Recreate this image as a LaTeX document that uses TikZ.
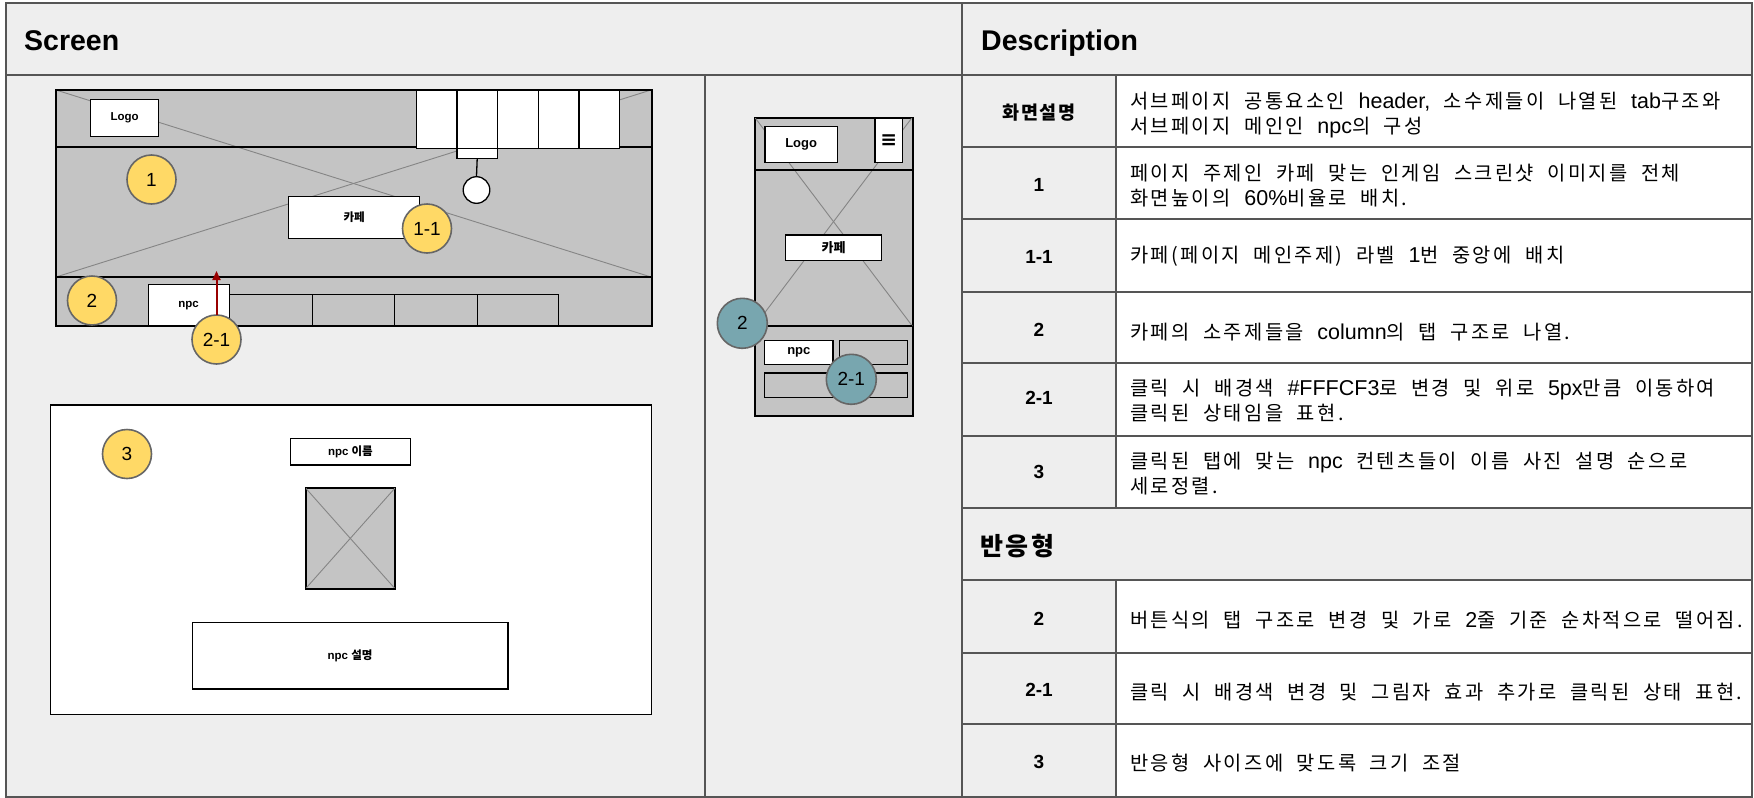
\documentclass[tikz,border=0pt]{standalone}
\usepackage{fontspec}
\setmainfont{Liberation Sans}
\newfontfamily\kr{Noto Sans CJK KR}[LetterSpace=12,WordSpace=2.0]
\newfontfamily\krn{Noto Sans CJK KR}
\newfontfamily\krh{Noto Sans CJK KR}[LetterSpace=10]
\newfontfamily\symf{DejaVu Sans}
\newcommand\en[1]{{\rmfamily\fontsize{21.5}{25}\selectfont #1}}
\usetikzlibrary{arrows.meta}
\definecolor{bg}{HTML}{EEEEEE}
\definecolor{wfg}{HTML}{C4C4C4}
\definecolor{yel}{HTML}{FFD966}
\definecolor{tealc}{HTML}{78A6AF}
\definecolor{cborder}{HTML}{666666}
\definecolor{tline}{HTML}{555555}
\definecolor{xg}{HTML}{858585}
\definecolor{arr}{HTML}{990000}
\tikzset{
 wf/.style={draw=black, line width=1.3pt, fill=wfg, inner sep=0pt, anchor=north west},
 wb/.style={draw=black, line width=1.3pt, fill=white, inner sep=0pt, anchor=north west},
 xl/.style={draw=xg, line width=0.9pt},
 tl/.style={draw=tline, line width=2pt},
 yc/.style={circle, fill=yel, draw=cborder, line width=1.6pt, minimum size=49pt, inner sep=0pt, font=\fontsize{19}{19}\selectfont},
 tc/.style={circle, fill=tealc, draw=cborder, line width=1.6pt, minimum size=50pt, inner sep=0pt, font=\fontsize{19}{19}\selectfont},
 lbl/.style={font=\bfseries\fontsize{11.5}{12}\selectfont},
 mlbl/.style={font=\bfseries\fontsize{13}{14}\selectfont},
 body/.style={anchor=west, align=left, inner sep=0pt, font=\kr\fontsize{19.8}{25}\selectfont},
 lab/.style={anchor=center, inner sep=0pt, font=\bfseries\fontsize{19}{20}\selectfont},
 ttl/.style={anchor=base west, inner sep=0pt, font=\bfseries\fontsize{28.5}{30}\selectfont},
 arrowst/.style={draw=arr, line width=2pt, -{Triangle[length=9pt,width=8pt]}},
}
\begin{document}
\begin{tikzpicture}[x=1pt,y=-1pt]
\useasboundingbox (0,0) rectangle (1754,798);
\fill[white] (0,0) rectangle (1754,798);
% backgrounds
\fill[bg] (6,3) rectangle (1752,75);
\fill[bg] (6,75) rectangle (962,797);
\fill[bg] (962,75) rectangle (1116,508);
\fill[white] (1116,75) rectangle (1752,508);
\fill[bg] (962,508) rectangle (1752,580);
\fill[bg] (962,580) rectangle (1116,797);
\fill[white] (1116,580) rectangle (1752,797);
% table lines
\draw[tl] (6,3) rectangle (1752,797);
\draw[tl] (6,75) -- (1752,75);
\draw[tl] (962,3) -- (962,797);
\draw[tl] (705,75) -- (705,797);
\foreach \yy in {147,219,292,363,436,508,580,653,724} {\draw[tl] (962,\yy) -- (1752,\yy);}
\draw[tl] (1116,75) -- (1116,508);
\draw[tl] (1116,580) -- (1116,797);
% titles
\node[ttl] (tscreen) at (24,50) {Screen};
\node[ttl] (tdesc) at (981,50) {Description};
\node[anchor=west, inner sep=0pt, font=\krh\bfseries\fontsize{25}{27}\selectfont] (tresp) at (980,546) {반응형};
% labels
\node[lab] (l0) at (1039,113) {{\krh\fontsize{18.5}{20}\selectfont 화면설명}};
\node[lab] (l1) at (1039,184.5) {1};
\node[lab] (l2) at (1039,257) {1-1};
\node[lab] (l3) at (1039,330) {2};
\node[lab] (l4) at (1039,398) {2-1};
\node[lab] (l5) at (1039,472) {3};
\node[lab] (l7) at (1039,618.5) {2};
\node[lab] (l8) at (1039,690) {2-1};
\node[lab] (l9) at (1039,762) {3};
% body texts
\node[body] (d0) at (1130,115) {서브페이지 공통요소인 \en{header,} 소수제들이 나열된 \en{tab}구조와\\서브페이지 메인인 \en{npc}의 구성};
\node[body] (d1) at (1130,186) {페이지 주제인 카페 맞는 인게임 스크린샷 이미지를 전체\\화면높이의 \en{60\%}비율로 배치.};
\node[body] (d2) at (1130,256) {카페(페이지 메인주제) 라벨 \en{1}번 중앙에 배치};
\node[body] (d3) at (1130,332) {카페의 소주제들을 \en{column}의 탭 구조로 나열.};
\node[body] (d4) at (1130,401) {클릭 시 배경색 \en{\#FFFCF3}로 변경 및 위로 \en{5px}만큼 이동하여\\클릭된 상태임을 표현.};
\node[body] (d5) at (1130,473.5) {클릭된 탭에 맞는 \en{npc} 컨텐츠들이 이름 사진 설명 순으로\\세로정렬.};
\node[body] (d7) at (1130,620.5) {버튼식의 탭 구조로 변경 및 가로 \en{2}줄 기준 순차적으로 떨어짐.};
\node[body] (d8) at (1130,692) {클릭 시 배경색 변경 및 그림자 효과 추가로 클릭된 상태 표현.};
\node[body] (d9) at (1130,763.5) {반응형 사이즈에 맞도록 크기 조절};
% ---------- wide wireframe ----------
\node[wf, minimum width=595pt, minimum height=235pt] (ws) at (56,90) {};
\draw[xl] (56,90) -- (651,277);
\draw[xl] (56,277) -- (651,90);
\draw[line width=1.3pt] (56,147) -- (651,147);
\draw[line width=1.3pt] (56,277) -- (651,277);
\node[wb, lbl, minimum width=68pt, minimum height=37pt] (wlogo) at (90,99) {Logo};
\foreach \i in {0,...,4} {\node[wb, minimum width=40.7pt, minimum height=58pt] (nav\i) at ({415.5+40.7*\i},90) {};}
\node[wb, minimum width=40.7pt, minimum height=9.5pt] (dd) at (456.2,148) {};
\node[circle, draw=black, fill=white, line width=1.3pt, minimum size=26.6pt, inner sep=0pt] (sc) at (476.5,190) {};
\draw[line width=1.3pt] (dd.south) -- (sc.north);
\node[wb, lbl, minimum width=131pt, minimum height=41.5pt] (wcafe) at (288,196) {{\krn 카페}};
\node[wf, minimum width=83.5pt, minimum height=31pt] (tab1) at (228.5,294) {};
\node[wf, minimum width=81.5pt, minimum height=31pt] (tab2) at (312,294) {};
\node[wf, minimum width=83.5pt, minimum height=31pt] (tab3) at (393.5,294) {};
\node[wf, minimum width=81pt, minimum height=31pt] (tab4) at (477,294) {};
\node[wb, lbl, minimum width=81pt, minimum height=41pt] (wnpc) at (147.5,284) {npc};
\draw[line width=1.3pt] (ws.north west) rectangle (ws.south east);
\node[yc] (c1) at (151.5,179.5) {1};
\node[yc] (c11) at (427,228.5) {1-1};
\node[yc] (c2) at (92,300.5) {2};
\node[yc] (c21) at (216.5,339.5) {2-1};
\coordinate (atip) at (216.5,271);
\draw[arrowst] (216.5,315) -- (atip);
% ---------- npc content box ----------
\node[wb, minimum width=601pt, minimum height=309.7pt] (cb) at (49.6,404.3) {};
\node[yc] (c3) at (127,454) {3};
\node[wb, lbl, minimum width=119.5pt, minimum height=26.6pt] (nname) at (290,437.7) {npc {\krn 이름}};
\node[wf, minimum width=88.7pt, minimum height=100pt] (nimg) at (305.3,487.7) {};
\draw[xl] (nimg.north west) -- (nimg.south east);
\draw[xl] (nimg.south west) -- (nimg.north east);
\draw[line width=1.3pt] (nimg.north west) rectangle (nimg.south east);
\node[wb, lbl, minimum width=315.8pt, minimum height=66.3pt] (ndesc) at (191.5,622) {npc {\krn 설명}};
% ---------- mobile wireframe ----------
\node[wf, minimum width=157.6pt, minimum height=297.7pt] (ms) at (754.7,117.3) {};
\draw[xl] (754.7,117.3) -- (912.3,326);
\draw[xl] (754.7,326) -- (912.3,117.3);
\draw[line width=1.3pt] (754.7,170) -- (912.3,170);
\draw[line width=1.3pt] (754.7,326) -- (912.3,326);
\node[wb, mlbl, minimum width=72.4pt, minimum height=36.3pt] (mlogo) at (764.3,125.7) {Logo};
\node[wb, minimum width=27.4pt, minimum height=44.7pt, font=\symf\bfseries\fontsize{20}{20}\selectfont] (mham) at (874.3,117.3) {≡};
\node[wb, mlbl, minimum width=96pt, minimum height=25.7pt] (mcafe) at (785,234.3) {{\krn 카페}};
\node[wb, mlbl, minimum width=68.3pt, minimum height=24pt] (mnpc) at (764,340) {npc};
\node[wf, minimum width=67.7pt, minimum height=24pt] (mtab2) at (839,340) {};
\node[wf, minimum width=142.7pt, minimum height=24.4pt] (mtab3) at (764,372.3) {};
\draw[line width=1.3pt] (ms.north west) rectangle (ms.south east);
\node[tc] (m2) at (742.3,323.3) {2};
\node[tc] (m21) at (851.3,379.3) {2-1};
\end{tikzpicture}
\end{document}
